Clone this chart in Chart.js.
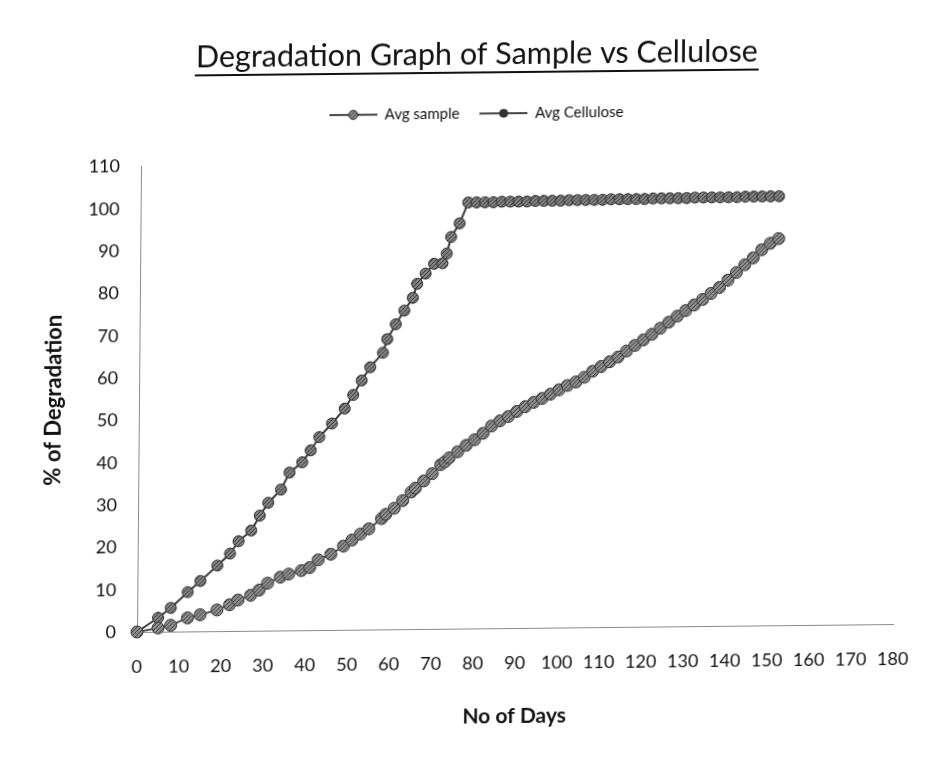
<!DOCTYPE html>
<html>
<head>
<meta charset="utf-8">
<script src="https://cdn.jsdelivr.net/npm/chart.js@4.4.1/dist/chart.umd.min.js"></script>
<style>
  html, body { margin: 0; padding: 0; background: #fff; }
  #wrap { width: 934px; height: 763px; overflow: hidden; }
  #c { display: block; transform-origin: 137px 632px; transform: matrix(1, -0.0105, -0.0086, 1, 0, 0); }
</style>
</head>
<body>
<div id="wrap"><canvas id="c" width="934" height="763"></canvas></div>
<script>
var days = [0, 5, 8, 12, 15, 19, 22, 24, 27, 29, 31, 34, 36, 39, 41, 43, 46, 49, 51, 53, 55, 58, 59, 61, 63, 65, 66, 68, 70, 72, 73, 74, 76, 78,
  80, 82, 84, 86, 88, 90, 92, 94, 96, 98, 100, 102, 104, 106, 108, 110, 112, 114, 116, 118, 120, 122, 124, 126, 128, 130, 132, 134, 136, 138, 140, 142, 144, 146, 148, 150, 152];
var avgSample = [0, 0.9, 1.5, 3.2, 3.9, 5.0, 6.2, 7.3, 8.4, 9.6, 11.2, 12.6, 13.3, 14.1, 14.8, 16.6, 17.9, 19.8, 21.2, 22.6, 23.8, 26.2, 27.2, 28.6, 30.4, 32.4, 33.3, 35.0, 36.7, 38.8, 39.5, 40.4, 41.8, 43.3,
  44.6, 46.1, 47.8, 49.0, 50.0, 51.2, 52.3, 53.3, 54.2, 55.2, 56.2, 57.2, 58.0, 59.1, 60.5, 61.6, 62.7, 63.8, 65.2, 66.5, 67.8, 69.1, 70.5, 71.9, 73.3, 74.6, 75.9, 77.2, 78.6, 80.0, 81.7, 83.5, 85.3, 86.9, 88.8, 90.3, 91.4];
var avgCellulose = [0, 3.3, 5.6, 9.3, 11.9, 15.5, 18.3, 21.2, 23.7, 27.2, 30.2, 33.3, 37.3, 39.7, 42.5, 45.6, 48.8, 52.3, 55.5, 58.9, 62.0, 65.4, 68.6, 72.1, 75.3, 78.3, 81.6, 84.0, 86.3, 86.4, 88.7, 92.6, 95.8, 100.7,
  100.7, 100.7, 100.7, 100.8, 100.8, 100.8, 100.8, 100.9, 100.9, 100.9, 100.9, 101.0, 101.0, 101.0, 101.0, 101.0, 101.1, 101.1, 101.1, 101.1, 101.1, 101.2, 101.2, 101.2, 101.2, 101.2, 101.3, 101.3, 101.3, 101.3, 101.3, 101.3, 101.4, 101.4, 101.4, 101.4, 101.4];
var seriesNames = ['Avg sample', 'Avg Cellulose'];
var xTicks = { min: 0, max: 180, step: 10 };
var yTicks = { min: 0, max: 110, step: 10 };

var canvas = document.getElementById('c');
var ctx = canvas.getContext('2d');

// hatched grey fill like the printed markers
function hatch(bg, fg) {
  var t = document.createElement('canvas');
  t.width = 4; t.height = 4;
  var g = t.getContext('2d');
  g.fillStyle = bg; g.fillRect(0, 0, 4, 4);
  g.strokeStyle = fg; g.lineWidth = 1;
  g.beginPath();
  g.moveTo(0, 4); g.lineTo(4, 0);
  g.moveTo(-1, 1); g.lineTo(1, -1);
  g.moveTo(3, 5); g.lineTo(5, 3);
  g.stroke();
  return ctx.createPattern(t, 'repeat');
}
var fillSample = hatch('#8e8e8e', '#3e3e3e');
var fillCell = hatch('#838383', '#363636');

function legendIcon(fill, r) {
  var t = document.createElement('canvas');
  t.width = 48; t.height = 12;
  var g = t.getContext('2d');
  g.strokeStyle = '#444'; g.lineWidth = 2;
  g.beginPath(); g.moveTo(0, 6); g.lineTo(48, 6); g.stroke();
  g.fillStyle = fill; g.strokeStyle = '#222'; g.lineWidth = 1;
  g.beginPath(); g.arc(24, 6, r, 0, Math.PI * 2); g.fill(); g.stroke();
  return t;
}
var icons = [legendIcon(fillSample, 4.5), legendIcon('#333', 4)];

function pts(vals) {
  return days.map(function (d, i) { return { x: d, y: vals[i] }; });
}

var legendGap = {
  id: 'legendGap',
  beforeInit: function (chart) {
    var fit = chart.legend.fit;
    chart.legend.fit = function () { fit.call(this); this.height += 32; };
  }
};

var titleUnderline = {
  id: 'titleUnderline',
  afterDraw: function (chart) {
    var t = chart.titleBlock;
    var c = chart.ctx;
    var f = chart.options.plugins.title.font;
    c.save();
    c.font = f.size + 'px ' + f.family;
    var w = c.measureText(chart.options.plugins.title.text).width;
    var cx = (t.left + t.right) / 2;
    var y = t.top + t.options.padding.top + 36;
    c.strokeStyle = '#111'; c.lineWidth = 1.8;
    c.beginPath(); c.moveTo(cx - w / 2 - 1, y); c.lineTo(cx + w / 2 + 1, y); c.stroke();
    c.restore();
  }
};

new Chart(ctx, {
  type: 'line',
  data: {
    datasets: [
      {
        label: seriesNames[0],
        data: pts(avgSample),
        borderColor: '#505050',
        borderWidth: 2,
        pointRadius: 6,
        pointBackgroundColor: fillSample,
        pointBorderColor: '#383838',
        pointBorderWidth: 1,
        clip: false
      },
      {
        label: seriesNames[1],
        data: pts(avgCellulose),
        borderColor: '#383838',
        borderWidth: 2,
        pointRadius: 5.5,
        pointBackgroundColor: fillCell,
        pointBorderColor: '#2a2a2a',
        pointBorderWidth: 1,
        clip: false
      }
    ]
  },
  options: {
    responsive: false,
    animation: false,
    layout: { padding: { top: 15, left: 51, right: 41, bottom: 10 } },
    plugins: {
      title: {
        display: true,
        text: 'Degradation Graph of Sample vs Cellulose',
        color: '#111',
        font: { family: 'Lato', size: 30.5, weight: 'normal' },
        padding: { top: 25, bottom: 13 }
      },
      legend: {
        display: true,
        labels: {
          usePointStyle: true,
          pointStyleWidth: 48,
          padding: 20,
          color: '#111',
          font: { family: 'Lato', size: 15 },
          generateLabels: function (chart) {
            var items = Chart.defaults.plugins.legend.labels.generateLabels(chart);
            items.forEach(function (it, i) { it.pointStyle = icons[i]; });
            return items;
          }
        }
      },
      tooltip: { enabled: false }
    },
    scales: {
      x: {
        type: 'linear',
        min: xTicks.min,
        max: xTicks.max,
        afterFit: function (s) { s.height = 121; },
        grid: { display: false, drawTicks: false },
        border: { color: '#8a8a8a', width: 1 },
        ticks: { stepSize: xTicks.step, padding: 24, color: '#111', font: { family: 'Lato', size: 18 } },
        title: { display: true, text: 'No of Days', color: '#111', font: { family: 'Lato', size: 21, weight: 'bold' }, padding: { top: 0, bottom: 20 } }
      },
      y: {
        min: yTicks.min,
        max: yTicks.max,
        afterFit: function (s) { s.width = 86; },
        grid: { display: false, drawTicks: false },
        border: { color: '#8a8a8a', width: 1 },
        ticks: { stepSize: yTicks.step, padding: 21, color: '#111', font: { family: 'Lato', size: 18 } },
        title: { display: true, text: '% of Degradation', color: '#111', font: { family: 'Lato', size: 22, weight: 'bold' }, padding: { top: -12, bottom: 0 } }
      }
    }
  },
  plugins: [legendGap, titleUnderline]
});
</script>
</body>
</html>
